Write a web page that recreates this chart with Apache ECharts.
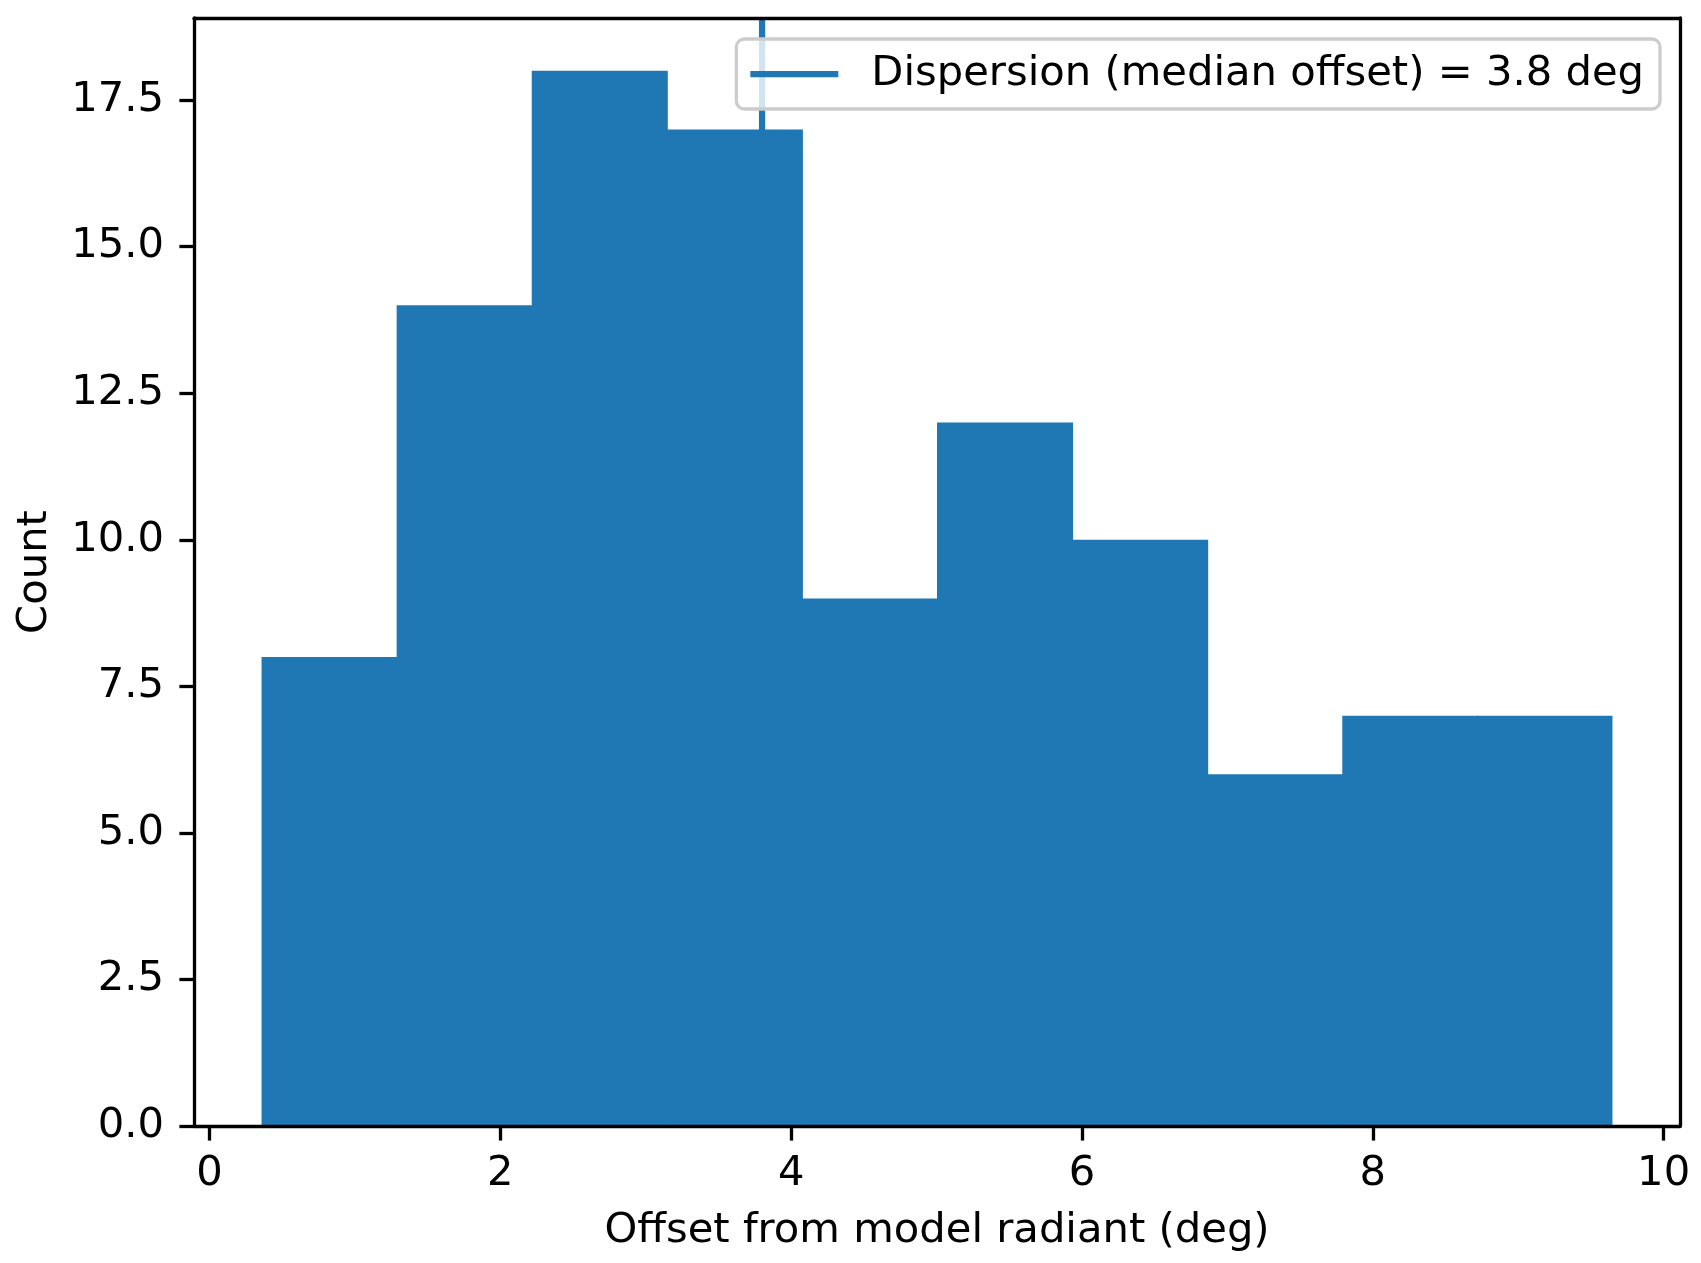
<!DOCTYPE html>
<html>
<head>
<meta charset="utf-8">
<script src="https://cdn.jsdelivr.net/npm/echarts@6/dist/echarts.min.js"></script>
<style>
  html, body { margin: 0; padding: 0; background: #ffffff; }
  #chart { width: 1701px; height: 1263px; }
</style>
</head>
<body>
<div id="chart"></div>
<script>
// ---- data ----
const binEdges = [0.358, 1.287, 2.216, 3.145, 4.074, 5.003, 5.932, 6.861, 7.790, 8.719, 9.648];
const counts = [8, 14, 18, 17, 9, 12, 10, 6, 7, 7];
const medianOffset = 3.8;
const xTicks = [0, 2, 4, 6, 8, 10];
const yTicks = [0, 2.5, 5, 7.5, 10, 12.5, 15, 17.5];
const xLabel = 'Offset from model radiant (deg)';
const yLabel = 'Count';
const legendLabel = 'Dispersion (median offset) = ' + medianOffset.toFixed(1) + ' deg';

// ---- derived ----
const xPad = (binEdges[binEdges.length - 1] - binEdges[0]) * 0.05;
const xMin = binEdges[0] - xPad;
const xMax = binEdges[binEdges.length - 1] + xPad;
const yMax = Math.max(...counts) * 1.05;
const histData = counts.map((c, i) => [binEdges[i], binEdges[i + 1], c, i === counts.length - 1 ? 0 : 1]);

const FONT = 'DejaVu Sans';
const FS = 41.7;
const BLUE = '#1f77b4';
const LW = 3.3;

const chart = echarts.init(document.getElementById('chart'), null, { renderer: 'canvas' });

const spine = { show: true, onZero: false, lineStyle: { color: '#000', width: LW } };

chart.setOption({
  animation: false,
  backgroundColor: '#ffffff',
  grid: { left: 194, right: 21, top: 18, bottom: 137, containLabel: false },
  legend: {
    zlevel: 1,
    z: 50,
    right: 41,
    top: 39,
    data: [{ name: legendLabel, icon: 'rect' }],
    itemWidth: 88,
    itemHeight: 6.25,
    padding: [14, 16, 14, 14],
    backgroundColor: 'rgba(255,255,255,0.8)',
    borderColor: '#cccccc',
    borderWidth: LW,
    borderRadius: 8,
    textStyle: { fontFamily: FONT, fontSize: FS, color: '#000', padding: [0, 0, 0, 28] },
    selectedMode: false
  },
  xAxis: [{
    type: 'value',
    min: xMin,
    max: xMax,
    z: 10,
    position: 'bottom',
    name: xLabel,
    nameLocation: 'middle',
    nameGap: 84,
    nameTextStyle: { fontFamily: FONT, fontSize: FS, color: '#000' },
    axisLine: spine,
    axisTick: { show: true, inside: false, length: 14.6, lineStyle: { color: '#000', width: LW }, customValues: xTicks },
    axisLabel: { show: true, margin: 27, fontFamily: FONT, fontSize: FS, color: '#000', customValues: xTicks,
                 formatter: v => String(v) },
    splitLine: { show: false }
  }, {
    type: 'value',
    min: xMin,
    max: xMax,
    z: 10,
    position: 'top',
    axisLine: spine,
    axisTick: { show: false },
    axisLabel: { show: false },
    splitLine: { show: false }
  }],
  yAxis: [{
    type: 'value',
    min: 0,
    max: yMax,
    z: 10,
    position: 'left',
    name: yLabel,
    nameLocation: 'middle',
    nameGap: 138,
    nameRotate: 90,
    nameTextStyle: { fontFamily: FONT, fontSize: FS, color: '#000' },
    axisLine: spine,
    axisTick: { show: true, inside: false, length: 14.6, lineStyle: { color: '#000', width: LW }, customValues: yTicks },
    axisLabel: { show: true, margin: 30, fontFamily: FONT, fontSize: FS, color: '#000', customValues: yTicks,
                 formatter: v => Number(v).toFixed(1) },
    splitLine: { show: false }
  }, {
    type: 'value',
    min: 0,
    max: yMax,
    z: 10,
    position: 'right',
    axisLine: spine,
    axisTick: { show: false },
    axisLabel: { show: false },
    splitLine: { show: false }
  }],
  series: [{
    type: 'custom',
    name: 'hist',
    xAxisIndex: 0,
    yAxisIndex: 0,
    z: 1,
    data: histData,
    encode: { x: [0, 1], y: 2 },
    renderItem: function (params, api) {
      const p0 = api.coord([api.value(0), api.value(2)]);
      const p1 = api.coord([api.value(1), 0]);
      const extra = api.value(3) ? 1 : 0;
      return {
        type: 'rect',
        shape: { x: p0[0], y: p0[1], width: p1[0] - p0[0] + extra, height: p1[1] - p0[1] },
        style: { fill: BLUE }
      };
    }
  }, {
    type: 'line',
    name: legendLabel,
    xAxisIndex: 0,
    yAxisIndex: 0,
    z: 2,
    data: [[medianOffset, 0], [medianOffset, yMax]],
    showSymbol: false,
    symbol: 'none',
    itemStyle: { color: BLUE },
    lineStyle: { color: BLUE, width: 6.25 }
  }]
});
</script>
</body>
</html>
